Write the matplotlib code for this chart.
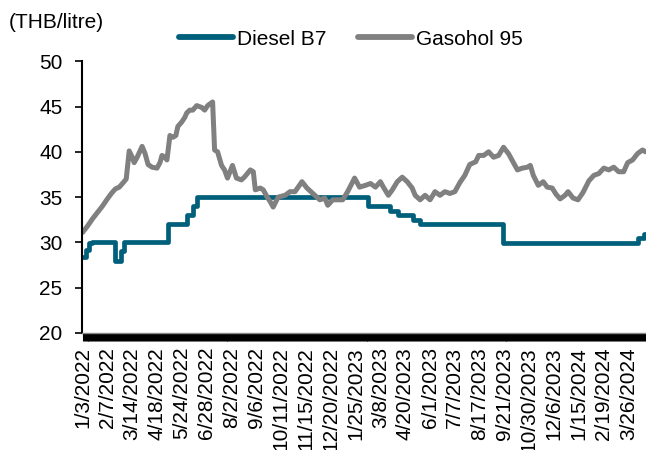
import matplotlib
matplotlib.use("Agg")
import matplotlib.pyplot as plt

plt.rcParams['font.family'] = ['Liberation Sans', 'DejaVu Sans']

# trading-day index axis, labels every 25 points
n_points = 568
tick_labels = ["1/3/2022", "2/7/2022", "3/14/2022", "4/18/2022", "5/24/2022",
               "6/28/2022", "8/2/2022", "9/6/2022", "10/11/2022", "11/15/2022",
               "12/20/2022", "1/25/2023", "3/8/2023", "4/20/2023", "6/1/2023",
               "7/7/2023", "8/17/2023", "9/21/2023", "10/30/2023", "12/6/2023",
               "1/15/2024", "2/19/2024", "3/26/2024"]

# Diesel B7: price change points (index, THB/litre)
diesel_idx = [0, 3, 7, 10, 33, 39, 42, 86, 105, 111, 115, 288, 310, 318, 333,
              340, 423, 559, 565, 567]
diesel_val = [28.4, 29.2, 29.9, 30.0, 28.0, 29.0, 30.0, 32.0, 33.0, 34.0, 35.0,
              34.0, 33.5, 33.0, 32.5, 32.0, 29.94, 30.44, 30.94, 30.94]

# Gasohol 95
gas_idx = [0, 5, 10, 15, 20, 25, 29, 33, 37, 41, 44, 47, 50, 52, 55, 60, 63, 66,
           70, 75, 78, 80, 83, 85, 88, 91, 94, 96, 100, 103, 105, 108, 111, 115,
           120, 123, 126, 131, 133, 136, 140, 143, 146, 151, 155, 160, 163, 169,
           172, 174, 179, 182, 186, 189, 192, 197, 204, 209, 214, 221, 226, 232,
           239, 244, 247, 252, 257, 262, 267, 274, 279, 285, 290, 295, 300, 303,
           308, 312, 317, 322, 327, 332, 335, 340, 345, 350, 355, 360, 365, 370,
           375, 380, 385, 390, 396, 399, 404, 409, 414, 419, 424, 429, 434, 438,
           443, 448, 451, 454, 459, 464, 468, 473, 477, 481, 486, 489, 494, 499,
           504, 510, 515, 520, 525, 530, 535, 540, 545, 549, 554, 559, 564, 567]
gas_val = [31.1, 31.8, 32.6, 33.3, 34.0, 34.8, 35.4, 35.9, 36.1, 36.6, 37.0, 40.1,
           39.4, 38.8, 39.4, 40.6, 39.8, 38.6, 38.3, 38.2, 38.8, 39.6, 39.4, 39.1,
           41.8, 41.6, 41.8, 42.8, 43.3, 43.8, 44.3, 44.6, 44.6, 45.1, 44.9, 44.6,
           45.1, 45.5, 40.2, 40.0, 38.5, 38.0, 37.1, 38.5, 37.1, 36.9, 37.2, 38.0,
           37.8, 35.8, 36.0, 35.8, 35.0, 34.5, 33.9, 35.0, 35.2, 35.6, 35.6, 36.7,
           36.0, 35.4, 34.7, 34.9, 34.1, 34.7, 34.7, 34.7, 35.6, 37.1, 36.1, 36.3,
           36.5, 36.1, 36.7, 36.1, 35.2, 35.8, 36.7, 37.2, 36.7, 36.0, 35.2, 34.7,
           35.2, 34.7, 35.6, 35.2, 35.6, 35.4, 35.6, 36.6, 37.4, 38.6, 38.9, 39.6,
           39.6, 40.0, 39.4, 39.6, 40.5, 39.8, 38.8, 38.0, 38.2, 38.3, 38.5, 37.4,
           36.3, 36.7, 36.1, 36.0, 35.3, 34.8, 35.2, 35.6, 34.9, 34.7, 35.5, 36.8,
           37.4, 37.6, 38.2, 38.0, 38.3, 37.8, 37.8, 38.8, 39.1, 39.8, 40.2, 40.0]

FS = 15
fig = plt.figure(figsize=(6.46, 4.5), dpi=100)
ax = fig.add_axes([0.127, 0.26, 0.873, 0.604])

ax.plot(diesel_idx, diesel_val, color='#005F7A', lw=3.4, drawstyle='steps-post',
        label="Diesel B7", solid_capstyle='round')
ax.plot(gas_idx, gas_val, color='#808080', lw=3.6, label="Gasohol 95",
        solid_capstyle='round', solid_joinstyle='round')

ax.set_xlim(-0.5, n_points - 0.5)
ax.set_ylim(20, 50)
ax.set_yticks(range(20, 51, 5))

ax.set_xticks(range(0, 25 * len(tick_labels), 25))
ax.set_xticklabels(tick_labels, rotation=90)
ax.set_xticks(range(n_points), minor=True)
ax.tick_params(axis='x', which='both', direction='out', length=6, width=0.8,
               color='black', labelsize=FS, pad=4)
ax.tick_params(axis='y', direction='out', length=5, width=1.2, labelsize=FS, pad=9)

for s in ['top', 'right']:
    ax.spines[s].set_visible(False)
ax.spines['left'].set_linewidth(1.5)
ax.spines['bottom'].set_linewidth(1.0)
ax.spines['bottom'].set_color('#888888')

leg = ax.legend(loc='lower center', bbox_to_anchor=(0.477, 1.0), ncol=2, frameon=False,
                fontsize=FS, handlelength=2.6, handletextpad=0.2, columnspacing=1.5,
                borderaxespad=0.2)
for line in leg.get_lines():
    line.set_linewidth(4.2)

fig.text(0.014, 1 - 22 / 450, "(THB/litre)", fontsize=FS, va='center', ha='left')

fig.savefig("out.png", dpi=100)
